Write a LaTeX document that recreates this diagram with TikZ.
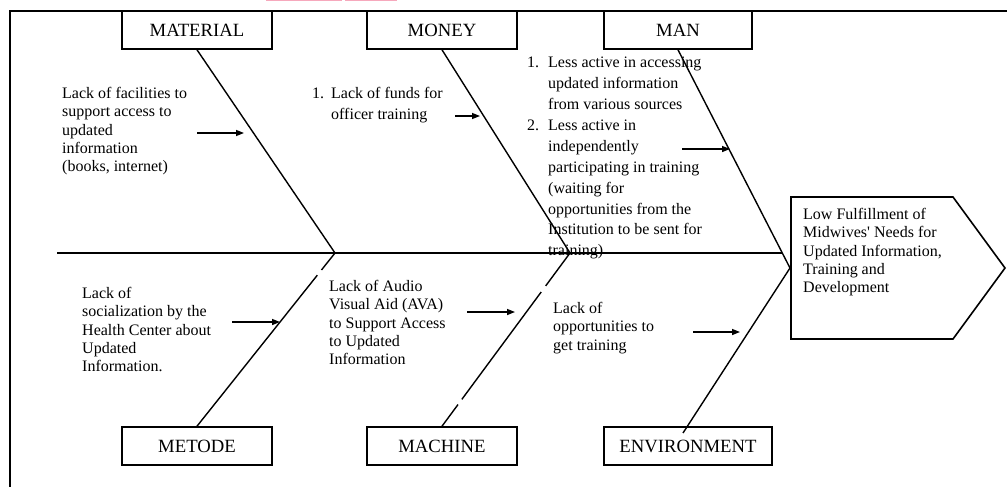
\documentclass[tikz,border=0pt]{standalone}
\usepackage{fontspec}
\setmainfont{Liberation Serif}[Ligatures=TeXOff]
\usetikzlibrary{arrows.meta,calc}
\begin{document}
\begin{tikzpicture}[x=1pt,y=-1pt,
  catbox/.style={draw,line width=1.6pt,minimum height=38pt,inner sep=0pt,
    font=\fontsize{18.7}{22}\selectfont},
  bone/.style={line width=1.4pt},
  cause/.style={anchor=north west,inner sep=0pt,align=left,
    font=\fontsize{16}{18.3}\selectfont},
  pointer/.style={line width=1.4pt,-{Triangle[length=8pt,width=6pt]}}
]
\useasboundingbox (0,0) rectangle (1007,487);

% small pink tabs along the upper edge
\fill[fill={rgb,255:red,246;green,168;blue,188}] (266,0) rectangle (342,1.4);
\fill[fill={rgb,255:red,246;green,168;blue,188}] (345,0) rectangle (397,1.4);

% frame
\draw[line width=1.4pt] (1007,11) -- (10,11) -- (10,487);

% category boxes
\node[catbox,minimum width=150pt] (material) at (197,30) {MATERIAL};
\node[catbox,minimum width=150pt] (money)    at (442,30) {MONEY};
\node[catbox,minimum width=148pt] (man)      at (678,30) {MAN};
\node[catbox,minimum width=150pt] (metode)   at (197,446) {METODE};
\node[catbox,minimum width=150pt] (machine)  at (442,446) {MACHINE};
\node[catbox,minimum width=168pt] (environment) at (688,446) {ENVIRONMENT};

% effect (head of the fish)
\coordinate (hA) at (791,197);
\coordinate (hB) at (953,197);
\coordinate (hC) at (1005,268);
\coordinate (hD) at (953,339);
\coordinate (hE) at (791,339);
\draw[line width=1.6pt,line join=miter] (hA) -- (hB) -- (hC) -- (hD) -- (hE) -- cycle;
\node[cause] (effect) at (803,208) {Low Fulfillment of\\Midwives' Needs for\\Updated Information,\\Training and\\Development};

% joints on the spine
\coordinate (tail) at (57,253);
\coordinate (j1) at (335,253);
\coordinate (j2) at (570,253);
\coordinate (spineEnd) at (782,253);
\coordinate (j3) at (790,268);
\coordinate (envEnd) at (683,433);

% spine
\draw[bone] (tail) -- (spineEnd);

% upper bones
\draw[bone] (material.south) -- (j1);
\draw[bone] (money.south) -- (j2);
\draw[bone] (man.south) -- (j3);

% lower bones (broken where labels were laid over them)
\draw[bone] (j1) -- ($(j1)!0.098!(metode.north)$);
\draw[bone] ($(j1)!0.128!(metode.north)$) -- (metode.north);
\draw[bone] (j2) -- ($(j2)!0.19!(machine.north)$);
\draw[bone] ($(j2)!0.225!(machine.north)$) -- ($(j2)!0.845!(machine.north)$);
\draw[bone] ($(j2)!0.875!(machine.north)$) -- (machine.north);
\draw[bone] (j3) -- (envEnd);

% cause texts
\node[cause] (c-material) at (62,87) {Lack of facilities to\\support access to\\updated\\information\\(books, internet)};
\node[cause,font=\fontsize{16}{21}\selectfont] (c-money) at (312,87)
  {\makebox[19pt][l]{1.}Lack of funds for\\\hspace*{19pt}officer training};
\node[cause,font=\fontsize{16}{20.9}\selectfont] (c-man) at (527,57)
  {\makebox[21pt][l]{1.}Less active in accessing\\
   \hspace*{21pt}updated information\\
   \hspace*{21pt}from various sources\\
   \makebox[21pt][l]{2.}Less active in\\
   \hspace*{21pt}independently\\
   \hspace*{21pt}participating in training\\
   \hspace*{21pt}(waiting for\\
   \hspace*{21pt}opportunities from the\\
   \hspace*{21pt}Institution to be sent for\\
   \hspace*{21pt}training)};
\node[cause] (c-metode) at (82,287) {Lack of\\socialization by the\\Health Center about\\Updated\\Information.};
\node[cause] (c-machine) at (329,280) {Lack of Audio\\Visual Aid (AVA)\\to Support Access\\to Updated\\Information};
\node[cause] (c-environment) at (553,302) {Lack of\\opportunities to\\get training};

% pointers from causes to bones
\coordinate (a1s) at (197,133); \coordinate (a1e) at (244,133);
\coordinate (a2s) at (455,116); \coordinate (a2e) at (480,116);
\coordinate (a3s) at (682,149); \coordinate (a3e) at (730,149);
\coordinate (a4s) at (232,322); \coordinate (a4e) at (280,322);
\coordinate (a5s) at (467,312); \coordinate (a5e) at (515,312);
\coordinate (a6s) at (693,332); \coordinate (a6e) at (740,332);
\draw[pointer] (a1s) -- (a1e);
\draw[pointer] (a2s) -- (a2e);
\draw[pointer] (a3s) -- (a3e);
\draw[pointer] (a4s) -- (a4e);
\draw[pointer] (a5s) -- (a5e);
\draw[pointer] (a6s) -- (a6e);
\end{tikzpicture}
\end{document}
